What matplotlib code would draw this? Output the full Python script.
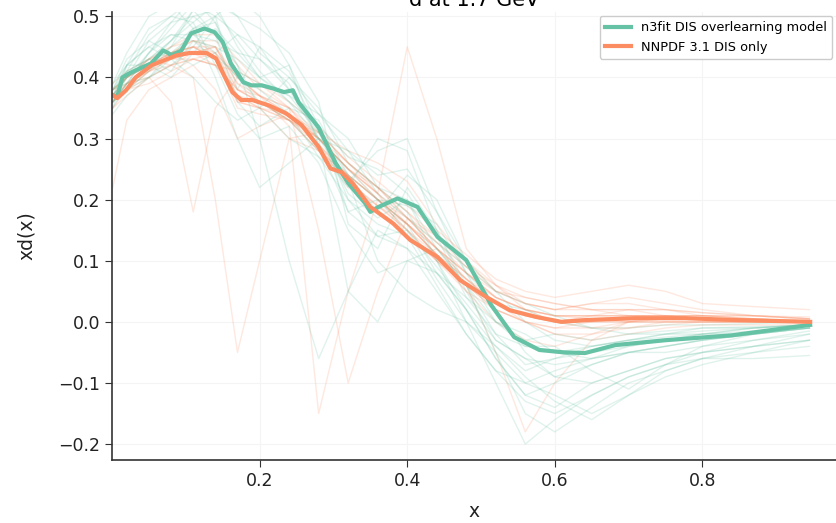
import matplotlib
matplotlib.use("Agg")
import matplotlib.pyplot as plt

# ---------------- data ----------------
x_grid = [0.001, 0.02, 0.05, 0.08, 0.11, 0.14, 0.17, 0.20, 0.24, 0.28, 0.32, 0.36,
          0.40, 0.44, 0.48, 0.52, 0.56, 0.60, 0.65, 0.70, 0.75, 0.80, 0.87, 0.945]

green_replicas = [
    [0.36,0.41,0.47,0.50,0.53,0.52,0.45,0.40,0.36,0.30,0.25,0.20,0.15,0.09,0.03,-0.03,-0.06,-0.07,-0.06,-0.04,-0.03,-0.02,-0.01,-0.005],
    [0.38,0.39,0.40,0.42,0.45,0.50,0.53,0.50,0.42,0.32,0.20,0.14,0.12,0.08,0.02,-0.06,-0.12,-0.10,-0.07,-0.05,-0.04,-0.03,-0.02,-0.01],
    [0.35,0.42,0.45,0.43,0.40,0.36,0.33,0.35,0.40,0.35,0.26,0.22,0.20,0.12,0.06,0.00,-0.03,-0.02,-0.03,-0.02,-0.015,-0.01,-0.008,-0.005],
    [0.39,0.44,0.50,0.52,0.48,0.40,0.30,0.22,0.26,0.30,0.28,0.24,0.25,0.18,0.10,0.02,-0.05,-0.09,-0.10,-0.08,-0.06,-0.05,-0.04,-0.03],
    [0.37,0.38,0.41,0.45,0.51,0.53,0.50,0.48,0.44,0.36,0.16,0.12,0.22,0.15,0.06,-0.05,-0.15,-0.18,-0.14,-0.10,-0.08,-0.06,-0.04,-0.02],
    [0.36,0.40,0.44,0.47,0.47,0.44,0.40,0.38,0.34,0.27,0.20,0.16,0.14,0.06,-0.02,-0.08,-0.10,-0.08,-0.06,-0.05,-0.05,-0.04,-0.03,-0.015],
    [0.38,0.43,0.46,0.44,0.42,0.44,0.47,0.45,0.38,0.30,0.23,0.28,0.30,0.18,0.08,0.03,0.02,0.00,-0.01,-0.01,-0.005,-0.005,-0.003,0.0],
    [0.34,0.37,0.40,0.43,0.48,0.49,0.42,0.35,0.30,0.27,0.23,0.10,0.05,0.02,0.00,-0.04,-0.09,-0.13,-0.16,-0.12,-0.09,-0.07,-0.05,-0.03],
    [0.37,0.41,0.43,0.46,0.51,0.47,0.36,0.32,0.35,0.33,0.24,0.18,0.24,0.20,0.10,0.05,0.00,-0.03,-0.04,-0.03,-0.025,-0.02,-0.01,-0.005],
    [0.39,0.42,0.42,0.40,0.44,0.48,0.44,0.40,0.42,0.29,0.18,0.20,0.16,0.08,0.04,0.00,-0.02,-0.05,-0.06,-0.05,-0.04,-0.03,-0.02,-0.01],
    [0.36,0.39,0.44,0.48,0.52,0.50,0.38,0.45,0.41,0.31,0.21,0.17,0.20,0.10,0.00,-0.10,-0.20,-0.16,-0.12,-0.09,-0.07,-0.06,-0.06,-0.055],
    [0.37,0.40,0.43,0.41,0.46,0.43,0.41,0.39,0.37,0.34,0.28,0.21,0.17,0.13,0.09,0.05,0.03,0.01,-0.01,-0.02,-0.02,-0.015,-0.01,-0.005],
    [0.38,0.42,0.48,0.50,0.49,0.42,0.34,0.30,0.32,0.26,0.15,0.08,0.10,0.12,0.06,-0.02,-0.07,-0.06,-0.05,-0.04,-0.03,-0.02,-0.02,-0.01],
    [0.36,0.39,0.42,0.46,0.50,0.51,0.46,0.41,0.36,0.32,0.27,0.25,0.21,0.14,0.04,-0.02,-0.04,-0.04,-0.08,-0.11,-0.07,-0.04,-0.02,-0.01],
    [0.37,0.40,0.46,0.49,0.50,0.47,0.42,0.30,0.10,-0.06,0.05,0.15,0.12,0.05,-0.02,-0.08,-0.13,-0.15,-0.12,-0.09,-0.07,-0.05,-0.04,-0.03],
    [0.38,0.41,0.43,0.46,0.49,0.52,0.50,0.44,0.40,0.34,0.30,0.22,0.18,0.10,0.02,-0.04,-0.08,-0.06,-0.04,-0.03,-0.02,-0.02,-0.015,-0.01],
    [0.36,0.38,0.40,0.44,0.47,0.46,0.44,0.43,0.39,0.30,0.05,0.00,0.10,0.08,0.02,-0.06,-0.12,-0.14,-0.10,-0.08,-0.06,-0.05,-0.03,-0.02],
    [0.37,0.42,0.45,0.47,0.46,0.45,0.43,0.40,0.37,0.31,0.24,0.20,0.19,0.16,0.08,0.00,-0.04,-0.05,-0.04,-0.03,-0.02,-0.01,-0.01,-0.005],
    [0.35,0.39,0.44,0.49,0.53,0.49,0.40,0.36,0.33,0.28,0.22,0.30,0.28,0.15,0.05,-0.03,-0.06,-0.09,-0.07,-0.05,-0.04,-0.03,-0.02,-0.01],
    [0.38,0.40,0.42,0.45,0.48,0.50,0.47,0.43,0.38,0.32,0.18,0.14,0.15,0.07,0.00,-0.05,-0.10,-0.12,-0.15,-0.12,-0.08,-0.06,-0.05,-0.04],
]

orange_replicas = [
    [0.36,0.38,0.41,0.43,0.45,0.45,0.40,0.37,0.34,0.29,0.24,0.20,0.16,0.11,0.07,0.04,0.02,0.01,0.01,0.01,0.01,0.01,0.01,0.005],
    [0.38,0.40,0.42,0.44,0.45,0.43,0.35,0.34,0.33,0.30,0.25,0.21,0.17,0.12,0.07,0.03,0.00,-0.01,-0.01,0.0,0.0,0.0,0.0,0.0],
    [0.22,0.33,0.38,0.40,0.42,0.38,0.30,0.32,0.34,0.31,0.26,0.22,0.17,0.13,0.09,0.06,0.04,0.03,0.02,0.02,0.02,0.015,0.01,0.008],
    [0.37,0.40,0.43,0.45,0.46,0.44,0.38,0.36,0.33,0.28,0.23,0.19,0.15,0.10,0.05,0.02,0.00,-0.01,0.00,0.0,0.005,0.005,0.003,0.0],
    [0.35,0.37,0.40,0.42,0.43,0.42,0.41,0.39,0.35,0.30,0.25,0.22,0.18,0.14,0.09,0.05,0.03,0.02,0.03,0.04,0.03,0.02,0.01,0.005],
    [0.39,0.41,0.43,0.42,0.40,0.20,-0.05,0.10,0.30,0.31,0.26,0.21,0.16,0.11,0.06,0.02,0.0,-0.02,-0.02,-0.01,0.0,0.0,0.0,0.0],
    [0.36,0.39,0.42,0.44,0.46,0.46,0.42,0.38,0.35,0.29,0.22,0.19,0.15,0.11,0.07,0.03,0.01,0.0,0.01,0.02,0.01,0.01,0.005,0.0],
    [0.37,0.38,0.39,0.41,0.43,0.44,0.40,0.37,0.35,0.15,-0.10,0.05,0.17,0.14,0.10,0.06,0.03,0.02,0.02,0.02,0.02,0.01,0.01,0.005],
    [0.38,0.40,0.42,0.43,0.44,0.43,0.36,0.35,0.33,0.30,0.26,0.22,0.18,0.13,0.08,0.04,0.02,0.01,0.005,0.0,0.0,0.0,0.0,0.0],
    [0.36,0.38,0.41,0.43,0.44,0.45,0.38,0.36,0.33,0.28,0.24,0.20,0.15,0.10,0.06,0.02,0.00,-0.02,-0.03,-0.02,-0.01,-0.005,-0.005,-0.005],
    [0.37,0.40,0.43,0.45,0.47,0.47,0.43,0.39,0.36,0.32,0.27,0.23,0.19,0.15,0.11,0.07,0.05,0.04,0.05,0.06,0.05,0.03,0.025,0.02],
    [0.36,0.39,0.41,0.42,0.43,0.42,0.38,0.36,0.34,0.29,0.23,0.19,0.16,0.12,0.07,0.03,0.01,0.0,0.0,0.01,0.01,0.005,0.005,0.0],
    [0.38,0.39,0.40,0.36,0.18,0.35,0.40,0.37,0.35,0.31,0.26,0.22,0.17,0.12,0.08,0.04,0.02,0.01,0.01,0.01,0.01,0.005,0.003,0.0],
    [0.37,0.40,0.43,0.44,0.45,0.44,0.37,0.35,0.30,0.28,0.24,0.20,0.16,0.11,0.06,-0.05,-0.18,-0.10,-0.03,0.0,0.005,0.005,0.003,0.0],
    [0.37,0.39,0.42,0.44,0.45,0.43,0.36,0.35,0.33,0.31,0.28,0.26,0.23,0.16,0.10,0.05,0.03,0.02,0.03,0.03,0.02,0.015,0.01,0.005],
    [0.38,0.40,0.42,0.43,0.44,0.42,0.37,0.36,0.34,0.30,0.25,0.21,0.14,0.10,0.06,0.03,0.01,0.0,-0.01,-0.01,-0.005,0.0,0.0,0.0],
    [0.36,0.39,0.41,0.44,0.46,0.45,0.39,0.37,0.32,-0.15,0.05,0.20,0.17,0.12,0.08,0.04,0.02,0.01,0.01,0.01,0.01,0.005,0.005,0.0],
    [0.37,0.38,0.40,0.42,0.44,0.45,0.39,0.36,0.33,0.29,0.24,0.20,0.16,0.12,0.08,0.05,0.04,0.03,0.02,0.01,0.01,0.01,0.005,0.003],
    [0.35,0.38,0.42,0.44,0.45,0.43,0.37,0.35,0.34,0.30,0.25,0.21,0.45,0.30,0.12,0.06,0.02,0.0,0.0,0.0,0.0,0.0,0.0,0.0],
    [0.38,0.40,0.42,0.43,0.43,0.42,0.38,0.37,0.34,0.30,0.25,0.20,0.16,0.11,0.05,0.00,-0.03,-0.04,-0.02,0.0,0.01,0.01,0.005,0.0],
]

green_mean_x = [0.001, 0.007, 0.014, 0.024, 0.053, 0.069, 0.076, 0.080, 0.094, 0.107, 0.125,
                0.139, 0.150, 0.161, 0.178, 0.189, 0.203, 0.218, 0.233, 0.245, 0.253, 0.280,
                0.303, 0.320, 0.343, 0.350, 0.361, 0.387, 0.414, 0.441, 0.480, 0.514, 0.545,
                0.579, 0.613, 0.641, 0.682, 0.750, 0.840, 0.946]
green_mean_y = [0.371, 0.368, 0.400, 0.407, 0.423, 0.444, 0.440, 0.436, 0.444, 0.472, 0.480,
                0.474, 0.458, 0.423, 0.392, 0.387, 0.387, 0.382, 0.376, 0.379, 0.359, 0.318,
                0.260, 0.227, 0.194, 0.180, 0.188, 0.202, 0.188, 0.139, 0.101, 0.027, -0.025,
                -0.046, -0.050, -0.051, -0.038, -0.030, -0.022, -0.005]

orange_mean_x = [0.001, 0.007, 0.019, 0.032, 0.054, 0.087, 0.105, 0.128, 0.141, 0.152, 0.163,
                 0.175, 0.190, 0.213, 0.236, 0.257, 0.280, 0.296, 0.311, 0.326, 0.350, 0.381,
                 0.404, 0.441, 0.472, 0.508, 0.539, 0.575, 0.609, 0.642, 0.709, 0.777, 0.845, 0.946]
orange_mean_y = [0.371, 0.366, 0.379, 0.400, 0.420, 0.436, 0.440, 0.440, 0.431, 0.403, 0.376,
                 0.363, 0.363, 0.354, 0.341, 0.322, 0.286, 0.251, 0.245, 0.227, 0.188, 0.161,
                 0.134, 0.106, 0.068, 0.040, 0.019, 0.008, 0.000, 0.003, 0.006, 0.006, 0.003, 0.000]

labels = ["n3fit DIS overlearning model", "NNPDF 3.1 DIS only"]
title = "d at 1.7 GeV"
GREEN = "#66c2a5"
ORANGE = "#fc8d62"

# ---------------- plot ----------------
fig = plt.figure(figsize=(8.36, 5.23), dpi=100)
ax = fig.add_axes([0.134, 0.1205, 0.866, 0.8565])

for r in orange_replicas:
    ax.plot(x_grid, r, color=ORANGE, alpha=0.2, lw=1.0)
for r in green_replicas:
    ax.plot(x_grid, r, color=GREEN, alpha=0.2, lw=1.0)

ax.plot(green_mean_x, green_mean_y, color=GREEN, lw=3, label=labels[0])
ax.plot(orange_mean_x, orange_mean_y, color=ORANGE, lw=3, label=labels[1])

ax.set_xlim(0.0, 0.981)
ax.set_ylim(-0.226, 0.507)
ax.set_xticks([0.2, 0.4, 0.6, 0.8])
ax.set_yticks([-0.2, -0.1, 0.0, 0.1, 0.2, 0.3, 0.4, 0.5])
ax.grid(True, color="#f4f4f4", lw=0.8)
ax.set_axisbelow(True)
for s in ["top", "right"]:
    ax.spines[s].set_visible(False)
for s in ["left", "bottom"]:
    ax.spines[s].set_color("#333333")
    ax.spines[s].set_linewidth(1.2)
ax.tick_params(axis="both", labelsize=12.5, length=5, color="#333333", labelcolor="#222222")
ax.set_xlabel("x", fontsize=13.5, color="#222222", labelpad=9)
ax.set_ylabel("xd(x)", fontsize=13.5, color="#222222", labelpad=16)
ax.set_title(title, fontsize=15, pad=4)
leg = ax.legend(loc="upper right", fontsize=9.3, frameon=True, borderaxespad=0.3,
                handlelength=2.0, framealpha=1.0)
leg.get_frame().set_edgecolor("#cccccc")

fig.savefig("out.png", dpi=100)
